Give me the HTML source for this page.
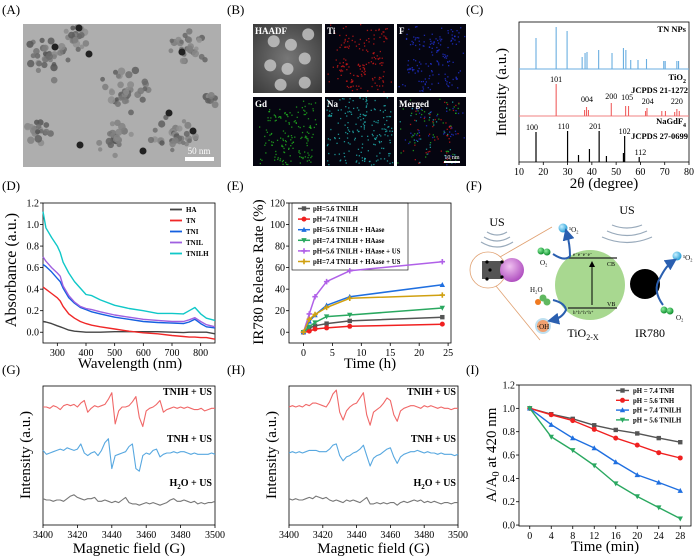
<!DOCTYPE html>
<html><head><meta charset="utf-8">
<style>
html,body{margin:0;padding:0;background:#fff;}
svg{display:block;font-family:"Liberation Serif",serif;}
</style></head>
<body>
<svg id="fig" width="700" height="559" viewBox="0 0 700 559" xmlns="http://www.w3.org/2000/svg">
<defs>
<radialGradient id="haadfG" cx="50%" cy="50%" r="70%"><stop offset="0" stop-color="#777"/><stop offset="1" stop-color="#3a3a3a"/></radialGradient>
<radialGradient id="pinkG" cx="40%" cy="35%" r="65%"><stop offset="0" stop-color="#f0c0f0"/><stop offset="1" stop-color="#b050c0"/></radialGradient>
<radialGradient id="blueBall" cx="35%" cy="35%" r="65%"><stop offset="0" stop-color="#c8f0ff"/><stop offset="1" stop-color="#2aa0d8"/></radialGradient>
<radialGradient id="greenBall" cx="35%" cy="35%" r="65%"><stop offset="0" stop-color="#90f0a0"/><stop offset="1" stop-color="#109030"/></radialGradient>
<marker id="arrH" markerWidth="6" markerHeight="6" refX="3" refY="3" orient="auto"><path d="M0,0 L6,3 L0,6 z" fill="#2a5fb0"/></marker>
<marker id="arrK" markerWidth="6" markerHeight="6" refX="3" refY="3" orient="auto"><path d="M0,0 L6,3 L0,6 z" fill="#000"/></marker>
</defs>

<g font-size="13" fill="#000">
<text x="2" y="14">(A)</text>
<text x="227" y="14">(B)</text>
<text x="466" y="14">(C)</text>
<text x="2" y="190">(D)</text>
<text x="227" y="190">(E)</text>
<text x="466" y="190">(F)</text>
<text x="2" y="374">(G)</text>
<text x="227" y="374">(H)</text>
<text x="466" y="374">(I)</text>
</g>

<g id="temA">
<rect x="23" y="24" width="198" height="143" fill="#aeaeae"/>
</g>
<g>
<rect x="185" y="157" width="29" height="4" fill="#fff"/>
<text x="199" y="154" font-size="9" fill="#fff" text-anchor="middle">50 nm</text>
</g>

<g id="mapB"></g>

<g id="schemeF" font-size="11">
<text x="497" y="226" text-anchor="middle" font-size="12">US</text>
<path d="M487,232 Q497,238 507,232 M484,237 Q497,245 510,237 M481,242 Q497,252 513,242" fill="none" stroke="#9ab" stroke-width="1.2"/>
<circle cx="488" cy="270" r="18" fill="none" stroke="#e0a070" stroke-width="0.8"/>
<line x1="500" y1="257" x2="552" y2="227" stroke="#e0a070" stroke-width="0.8"/>
<line x1="496" y1="286" x2="540" y2="340" stroke="#e0a070" stroke-width="0.8"/>
<rect x="482" y="261" width="20" height="18" fill="#555"/>
<circle cx="512" cy="270" r="12" fill="url(#pinkG)"/>
<circle cx="487" cy="262" r="1.6" fill="#000"/><circle cx="487" cy="279" r="1.6" fill="#000"/><circle cx="502" cy="262" r="1.6" fill="#000"/><circle cx="502" cy="277" r="1.6" fill="#000"/><circle cx="490" cy="270" r="1.6" fill="#000"/>
<circle cx="590" cy="285" r="35" fill="#a8d890"/>
<line x1="568" y1="258" x2="617" y2="258" stroke="#222" stroke-width="1.3"/>
<line x1="568" y1="308" x2="617" y2="308" stroke="#222" stroke-width="1.3"/>
<line x1="592" y1="305" x2="592" y2="264" stroke="#000" stroke-width="1" marker-end="url(#arrK)"/>
<text x="573" y="256" font-size="5">e⁻e⁻e⁻e⁻</text>
<text x="573" y="314" font-size="5">h⁺h⁺h⁺h⁺</text>
<text x="607" y="266" font-size="6">CB</text>
<text x="607" y="306" font-size="6">VB</text>
<text x="583" y="337" text-anchor="middle" font-size="12">TiO<tspan font-size="8" dy="3">2-X</tspan></text>
<text x="627" y="214" text-anchor="middle" font-size="12">US</text>
<path d="M612,225 Q627,231 642,225 M607,231 Q627,240 647,231 M602,237 Q627,248 652,237" fill="none" stroke="#9ab" stroke-width="1.2"/>
<circle cx="645" cy="284" r="15" fill="#000"/>
<text x="650" y="337" text-anchor="middle" font-size="12">IR780</text>
<circle cx="563" cy="228" r="4.5" fill="url(#blueBall)"/><text x="569" y="232" font-size="7">¹O₂</text>
<circle cx="677" cy="256" r="4.5" fill="url(#blueBall)"/><text x="683" y="260" font-size="7">¹O₂</text>
<circle cx="541" cy="251" r="3.5" fill="url(#greenBall)"/><circle cx="547" cy="252" r="3.5" fill="url(#greenBall)"/><text x="540" y="265" font-size="7">O₂</text>
<circle cx="664" cy="310" r="3.5" fill="url(#greenBall)"/><circle cx="670" cy="311" r="3.5" fill="url(#greenBall)"/><text x="676" y="320" font-size="7">O₂</text>
<text x="530" y="292" font-size="7">H₂O</text>
<circle cx="538" cy="302" r="3" fill="#f07a20"/><circle cx="543" cy="298" r="3.5" fill="#60b860"/><circle cx="547" cy="302" r="3.5" fill="#60b860"/>
<circle cx="543" cy="326" r="7" fill="#f0a070" stroke="#bfe0f0" stroke-width="2"/><text x="543" y="329" font-size="7" text-anchor="middle">·OH</text>
<path d="M553,254 Q565,262 570,256 Q570,245 567,234" fill="none" stroke="#2a5fb0" stroke-width="2" marker-end="url(#arrH)"/>
<path d="M553,300 Q565,303 566,310 Q562,318 553,320" fill="none" stroke="#2a5fb0" stroke-width="2" marker-end="url(#arrH)"/>
<path d="M663,305 Q652,290 660,278 Q666,266 672,262" fill="none" stroke="#2a5fb0" stroke-width="2" marker-end="url(#arrH)"/>
</g>

<g id="charts"></g>

<script>
const NS = 'http://www.w3.org/2000/svg';
const charts = document.getElementById('charts');

const xrdTNPos = [17, 25.3, 29.8, 36, 37.2, 38, 42.8, 48.3, 53, 54, 56, 59, 62.5, 69.6, 70.2, 75, 75.7];
const xrdTNInt = [31, 42, 38, 12, 16, 17, 19, 16, 21, 19, 9, 9, 10, 8, 8, 8, 8];
const xrdTiPos = [25.3, 37, 37.8, 38.6, 48, 53.9, 55.1, 62.1, 62.7, 68.8, 70.3, 74.1, 75, 76];
const xrdTiInt = [32, 6, 9, 6, 13, 10, 10, 5, 8, 5, 5, 4, 7, 5];
const xrdTiHkl = ['101', '004', '200', '105', '204', '220'];
const xrdTiHklPos = [25.3, 38, 48, 54.5, 63, 75];
const xrdNaPos = [17, 30, 34.5, 39, 43, 46, 53, 53.5, 59.5];
const xrdNaInt = [30, 31, 7, 13, 31, 6, 9, 26, 5];
const xrdNaHkl = ['100', '110', '201', '102', '112'];
const xrdNaHklPos = [17, 30, 43, 53.5, 60];
const xrdNaHklInt = [30, 31, 31, 26, 5];
const xrdXTicks = [10, 20, 30, 40, 50, 60, 70, 80];

const absWl = [250, 260, 280, 300, 310, 320, 340, 360, 380, 400, 420, 450, 500, 550, 600, 650, 700, 740, 760, 780, 800, 820, 850];
const absHA = [0.10, 0.095, 0.08, 0.06, 0.05, 0.04, 0.02, 0.01, 0.005, 0, 0, 0, 0.005, 0.005, 0.005, 0.005, 0, -0.003, 0, 0, 0, 0, -0.015];
const absTN = [0.42, 0.40, 0.36, 0.32, 0.29, 0.24, 0.17, 0.13, 0.10, 0.08, 0.065, 0.05, 0.03, 0.01, -0.005, -0.015, -0.03, -0.04, -0.045, -0.045, -0.05, -0.05, -0.065];
const absTNI = [0.63, 0.61, 0.56, 0.50, 0.47, 0.41, 0.32, 0.27, 0.23, 0.21, 0.19, 0.17, 0.14, 0.12, 0.10, 0.09, 0.085, 0.08, 0.095, 0.12, 0.08, 0.05, 0.04];
const absTNIL = [0.70, 0.66, 0.60, 0.55, 0.52, 0.43, 0.34, 0.28, 0.24, 0.22, 0.21, 0.19, 0.16, 0.14, 0.12, 0.11, 0.10, 0.10, 0.115, 0.135, 0.10, 0.07, 0.05];
const absTNILH = [1.12, 0.97, 0.88, 0.80, 0.74, 0.65, 0.55, 0.47, 0.41, 0.35, 0.34, 0.30, 0.25, 0.22, 0.20, 0.175, 0.175, 0.17, 0.20, 0.23, 0.17, 0.13, 0.11];
const absNames = ['HA', 'TN', 'TNI', 'TNIL', 'TNILH'];
const absXTicks = [300, 400, 500, 600, 700, 800];
const absYTicks = [0, 0.2, 0.4, 0.6, 0.8, 1.0, 1.2];

const relTime = [0, 1, 2, 4, 8, 24];
const rel56 = [0, 4, 6, 8, 10.5, 14];
const rel74 = [0, 1, 3, 4, 5.5, 7.5];
const rel56H = [0, 10, 16, 25, 33, 44];
const rel74H = [0, 5, 9, 14.5, 16, 22.5];
const rel56HU = [0, 17, 33, 47, 57, 65.5];
const rel74HU = [0, 12, 16.5, 23, 31.5, 34.5];
const relNames = ['pH=5.6 TNILH', 'pH=7.4 TNILH', 'pH=5.6 TNILH + HAase', 'pH=7.4 TNILH + HAase', 'pH=5.6 TNILH + HAase + US', 'pH=7.4 TNILH + HAase + US'];
const relXTicks = [0, 5, 10, 15, 20, 25];
const relYTicks = [0, 20, 40, 60, 80, 100, 120];

const eprStart = 3400, eprStep = 2;
const eprGTNIH = [0,0,-1,1,0,-2,1,2,1,2, 0,3,5,-4,-1,1,0,1,2,6, 11,-13,-3,0,0,1,4,8,-8,-15, -3,-1,0,2,5,-4,-2,-1,0,-1, 0,-1,0,-1,-2,-2,-1,-3,-2,-1, -1];
const eprGTNH = [2,-1,0,1,2,3,2,4,3,2, 3,7,0,-2,0,1,-2,2,8,11, -12,-2,-1,0,1,5,7,-12,-14,-2, 0,-1,2,3,-3,-1,0,0,1,0, 1,1,0,-1,0,-1,-1,-1,-1,0, -1];
const eprGH2O = [1,0,0,-1,0,0,-1,1,3,4, 2,1,0,1,1,2,-1,-1,0,-1, -2,-1,-2,0,2,-2,-3,-3,-4,-3, -2,-3,-2,-3,-4,-3,-2,0,1,-1, -1,0,-1,-2,-1,-3,-2,-3,-2,-2, -1];
const eprHTNIH = [0,1,0,1,0,2,1,3,3,2, 1,0,4,10,13,-4,-10,-3,0,2, 3,7,11,-6,-14,-4,-2,0,3,7, 5,-6,-11,-3,-1,0,1,1,0,-1, 1,0,1,0,-1,0,-1,-1,-2,-1, -1];
const eprHTNH = [0,1,0,1,0,1,2,2,2,1, 1,1,3,6,7,-2,-6,-3,-2,0, 1,3,6,-2,-10,-4,-2,-1,1,3, 4,-3,-8,-3,-1,0,1,1,2,1, 0,1,0,0,-1,0,-1,-1,-1,-2, -1];
const eprHH2O = [1,0,1,0,0,1,2,1,3,2, 1,2,0,-1,0,-1,-2,0,-1,0, -1,-2,0,2,-3,-3,-2,-3,-2,-3, -2,-2,-4,-2,-1,-2,-1,0,-1,0, -2,-1,-2,-1,-2,-3,-2,-2,-3,-2, -2];
const eprXTicks = [3400, 3420, 3440, 3460, 3480, 3500];
const eprNames = ['TNIH + US', 'TNH + US', 'H2O + US'];

const degTime = [0, 4, 8, 12, 16, 20, 24, 28];
const deg74TNH = [1.0, 0.95, 0.91, 0.855, 0.815, 0.785, 0.745, 0.71];
const deg56TNH = [1.0, 0.945, 0.895, 0.82, 0.745, 0.685, 0.62, 0.575];
const deg74TNILH = [1.0, 0.86, 0.745, 0.66, 0.54, 0.43, 0.365, 0.295];
const deg56TNILH = [1.0, 0.755, 0.64, 0.51, 0.355, 0.245, 0.15, 0.055];
const degNames = ['pH = 7.4 TNH', 'pH = 5.6 TNH', 'pH = 7.4 TNILH', 'pH = 5.6 TNILH'];
const degXTicks = [0, 4, 8, 12, 16, 20, 24, 28];
const degYTicks = [0, 0.2, 0.4, 0.6, 0.8, 1.0, 1.2];

function mk(parent, tag, attrs, text) {
  const el = document.createElementNS(NS, tag);
  for (const k in attrs) el.setAttribute(k, attrs[k]);
  if (text !== undefined) el.textContent = text;
  parent.appendChild(el);
  return el;
}
function subText(t, parts) {
  // parts: [text, isSub]
  let prevSub = false;
  parts.forEach(p => {
    const ts = mk(t, 'tspan', {}, p[0]);
    if (p[1] && !prevSub) { ts.setAttribute('dy', '3'); ts.setAttribute('font-size', '70%'); }
    else if (!p[1] && prevSub) ts.setAttribute('dy', '-3');
    else if (p[1]) ts.setAttribute('font-size', '70%');
    prevSub = p[1];
  });
}
function lin(d0, d1, r0, r1) { return v => r0 + (v - d0) * (r1 - r0) / (d1 - d0); }
function fmt1(v) { return v.toFixed(1); }

function axes(g, box, fx, fy, xt, yt, yf, xf) {
  const fr = mk(g, 'rect', {x: box.l, y: box.t, width: box.r - box.l, height: box.b - box.t, fill: 'none', stroke: '#000', 'stroke-width': 0.8});
  
  
  xt.forEach(v => {
    const x = fx(v);
    mk(g, 'line', {x1: x, y1: box.b, x2: x, y2: box.b + 3, stroke: '#000', 'stroke-width': 0.8});
    const t = mk(g, 'text', {x: x, y: box.b + 13, 'font-size': 10, 'text-anchor': 'middle'}, xf ? xf(v) : String(v));
    
    
  });
  (yt || []).forEach(v => {
    const y = fy(v);
    mk(g, 'line', {x1: box.l - 3, y1: y, x2: box.l, y2: y, stroke: '#000', 'stroke-width': 0.8});
    const t = mk(g, 'text', {x: box.l - 4, y: y + 3.5, 'font-size': 10, 'text-anchor': 'end'}, yf ? yf(v) : String(v));
    
    
  });
}
function ytitle(g, x, y, txt, size) {
  const t = mk(g, 'text', {x: x, y: y, 'font-size': size || 15, 'text-anchor': 'middle', transform: 'rotate(-90 ' + x + ' ' + y + ')'}, txt);
  
  
  return t;
}
function xtitle(g, x, y, txt) {
  const t = mk(g, 'text', {x: x, y: y, 'font-size': 15, 'text-anchor': 'middle'}, txt);
  
  
  return t;
}
function polyline(g, xs, ys, fx, fy, color, w) {
  const pts = xs.map((x, i) => fx(x).toFixed(1) + ',' + fy(ys[i]).toFixed(1)).join(' ');
  return mk(g, 'polyline', {points: pts, fill: 'none', stroke: color, 'stroke-width': w || 1.3, 'stroke-linejoin': 'round'});
}
function marker(g, x, y, shape, color) {
  let el;
  const s = 2.2;
  if (shape === 'sq') el = mk(g, 'rect', {x: x - s, y: y - s, width: 2 * s, height: 2 * s, fill: color});
  else if (shape === 'ci') el = mk(g, 'circle', {cx: x, cy: y, r: s + 0.3, fill: color});
  else if (shape === 'tu') el = mk(g, 'path', {d: `M${x},${y - s - 0.6} L${x + s + 0.5},${y + s} L${x - s - 0.5},${y + s}Z`, fill: color});
  else if (shape === 'td') el = mk(g, 'path', {d: `M${x},${y + s + 0.6} L${x + s + 0.5},${y - s} L${x - s - 0.5},${y - s}Z`, fill: color});
  else el = mk(g, 'path', {d: `M${x - s - 0.5},${y} L${x + s + 0.5},${y} M${x},${y - s - 0.5} L${x},${y + s + 0.5}`, stroke: color, 'stroke-width': 1.6});
  return el;
}

/* (A) TEM texture */
(function () {
  const g = document.getElementById('temA');
  let seed = 7;
  const rnd = () => { seed = (seed * 16807) % 2147483647; return seed / 2147483647; };
  const clusters = [[45, 60, 25], [75, 40, 15], [125, 95, 30], [115, 140, 20], [190, 50, 22], [175, 135, 25], [40, 130, 15], [210, 100, 8]];
  clusters.forEach(c => {
    const n = Math.round(c[2] * 1.3);
    for (let i = 0; i < n; i++) {
      const a = rnd() * 6.283, r = rnd() * c[2];
      const x = c[0] + Math.cos(a) * r, y = c[1] + Math.sin(a) * r * 0.9;
      if (x < 26 || x > 218 || y < 27 || y > 164) continue;
      const shade = Math.round(85 + rnd() * 60);
      mk(g, 'circle', {cx: x.toFixed(1), cy: y.toFixed(1), r: (2.2 + rnd() * 1.6).toFixed(1), fill: `rgb(${shade},${shade},${shade})`, opacity: 0.85});
    }
  });
  [[55, 47], [89, 54], [79, 28], [182, 52], [193, 131], [80, 145], [169, 113], [143, 151]].forEach(p => mk(g, 'circle', {cx: p[0], cy: p[1], r: 3.5, fill: '#222'}));
})();

/* (B) mapping tiles */
(function () {
  const g = document.getElementById('mapB');
  const cols = [253, 325, 397], rows = [24, 97], w = 69, h = 69;
  const names = ['HAADF', 'Ti', 'F', 'Gd', 'Na', 'Merged'];
  const colors = [null, '#d01818', '#2030d0', '#20b020', '#20b0b0', null];
  let seed = 11;
  const rnd = () => { seed = (seed * 16807) % 2147483647; return seed / 2147483647; };
  const centers = [[0.3, 0.25], [0.55, 0.3], [0.25, 0.6], [0.5, 0.65], [0.75, 0.5], [0.8, 0.15], [0.4, 0.88], [0.75, 0.85]];
  names.forEach((nm, i) => {
    const x0 = cols[i % 3], y0 = rows[Math.floor(i / 3)];
    const tile = mk(g, 'g', {});
    
    
    mk(tile, 'rect', {x: x0, y: y0, width: w, height: h, fill: i === 0 ? 'url(#haadfG)' : '#050510'});
    if (i === 0) {
      centers.forEach(c => mk(tile, 'circle', {cx: x0 + c[0] * w, cy: y0 + c[1] * h, r: 6, fill: '#c8c8c8', opacity: 0.8}));
    } else {
      const cl = i === 5 ? ['#d01818', '#20b0b0', '#2030d0', '#20b020'] : [colors[i]];
      const n = i === 4 ? 200 : 160;
      for (let k = 0; k < n; k++) {
        let px, py;
        if (i === 4 || rnd() < 0.25) { px = rnd(); py = rnd(); }
        else { const c = centers[Math.floor(rnd() * centers.length)]; px = c[0] + (rnd() - 0.5) * 0.2; py = c[1] + (rnd() - 0.5) * 0.2; }
        if (px < 0 || px > 0.98 || py < 0 || py > 0.98) continue;
        mk(tile, 'rect', {x: (x0 + px * w).toFixed(1), y: (y0 + py * h).toFixed(1), width: 1.3, height: 1.3, fill: cl[Math.floor(rnd() * cl.length)], opacity: 0.8});
      }
    }
    mk(tile, 'text', {x: x0 + 2, y: y0 + 10, 'font-size': 9, 'font-weight': 'bold', fill: '#fff'}, nm);
  });
  mk(g, 'rect', {x: 444, y: 161, width: 16, height: 2, fill: '#fff'});
  mk(g, 'text', {x: 452, y: 159, 'font-size': 6, fill: '#fff', 'text-anchor': 'middle'}, '10 nm');
})();

/* (C) XRD */
(function () {
  const g = mk(charts, 'g', {});
  
  
  const box = {l: 519, r: 689, t: 22, b: 162};
  const fx = lin(10, 80, box.l, box.r);
  axes(g, box, fx, null, xrdXTicks, []);
  const base1 = 69, base2 = 116, base3 = 162;
  mk(g, 'line', {x1: box.l, y1: base1, x2: box.r, y2: base1, stroke: '#6aaee0', 'stroke-width': 1});
  mk(g, 'line', {x1: box.l, y1: base2, x2: box.r, y2: base2, stroke: '#f08080', 'stroke-width': 1});
  xrdTNPos.forEach((p, i) => {
    const l = mk(g, 'line', {x1: fx(p), x2: fx(p), y1: base1, y2: base1 - xrdTNInt[i], stroke: '#6aaee0', 'stroke-width': 1.1});
    
    
  });
  xrdTiPos.forEach((p, i) => {
    const l = mk(g, 'line', {x1: fx(p), x2: fx(p), y1: base2, y2: base2 - xrdTiInt[i], stroke: '#f06060', 'stroke-width': 1.1});
    
    
  });
  xrdNaPos.forEach((p, i) => {
    const l = mk(g, 'line', {x1: fx(p), x2: fx(p), y1: base3, y2: base3 - xrdNaInt[i], stroke: '#000', 'stroke-width': 1.2});
    
    
  });
  const tiHklInt = [32, 12, 15, 14, 10, 10];
  xrdTiHkl.forEach((h, i) => mk(g, 'text', {x: fx(xrdTiHklPos[i]), y: base2 - tiHklInt[i] - 2, 'font-size': 8, 'text-anchor': 'middle'}, h));
  xrdNaHkl.forEach((h, i) => mk(g, 'text', {x: fx(xrdNaHklPos[i]) - (i < 3 ? 4 : 0), y: base3 - xrdNaHklInt[i] - 2, 'font-size': 8, 'text-anchor': 'middle'}, h));
  const s = {'font-size': 8.5, 'font-weight': 'bold', 'text-anchor': 'end'};
  mk(g, 'text', Object.assign({x: 686, y: 32}, s), 'TN NPs');
  const t1 = mk(g, 'text', Object.assign({x: 686, y: 80}, s));
  subText(t1, [['TiO', false], ['2', true]]);
  mk(g, 'text', Object.assign({x: 688, y: 93}, s), 'JCPDS 21-1272');
  const t2 = mk(g, 'text', Object.assign({x: 686, y: 124}, s));
  subText(t2, [['NaGdF', false], ['4', true]]);
  mk(g, 'text', Object.assign({x: 688, y: 139}, s), 'JCPDS 27-0699');
  ytitle(g, 506, 92, 'Intensity (a.u.)');
  xtitle(g, 604, 188, '2θ (degree)');
})();

/* (D) absorbance */
(function () {
  const g = mk(charts, 'g', {});
  
  
  const box = {l: 43, r: 215, t: 203, b: 343};
  const fx = lin(250, 850, box.l, box.r), fy = lin(-0.1, 1.2, box.b, box.t);
  axes(g, box, fx, fy, absXTicks, absYTicks, fmt1);
  const series = [absHA, absTN, absTNI, absTNIL, absTNILH];
  const cols = ['#444', '#f02828', '#1560e0', '#a060e0', '#10c8c8'];
  series.forEach((s, i) => {
    const l = polyline(g, absWl, s, fx, fy, cols[i], 1.4);
    
    
    const ly = 212 + i * 11;
    mk(g, 'line', {x1: 170, x2: 182, y1: ly - 2.5, y2: ly - 2.5, stroke: cols[i], 'stroke-width': 1.8});
    const lt = mk(g, 'text', {x: 186, y: ly, 'font-size': 7, 'font-weight': 'bold'}, absNames[i]);
    
    
  });
  ytitle(g, 16, 270, 'Absorbance (a.u.)', 16);
  xtitle(g, 130, 368, 'Wavelength (nm)');
})();

/* (E) release */
(function () {
  const g = mk(charts, 'g', {});
  
  
  const box = {l: 289, r: 451, t: 203, b: 343};
  const fx = lin(-2.5, 25.5, box.l, box.r), fy = lin(-10, 120, box.b, box.t);
  axes(g, box, fx, fy, relXTicks, relYTicks);
  const series = [rel56, rel74, rel56H, rel74H, rel56HU, rel74HU];
  const cols = ['#555', '#f02020', '#1f6fe0', '#2aa860', '#b060e8', '#d0a010'];
  const shapes = ['sq', 'ci', 'tu', 'td', 'st', 'st'];
  const lg = mk(g, 'rect', {x: 292, y: 203, width: 116, height: 67, fill: 'none', stroke: '#000', 'stroke-width': 0.6});
  
  
  series.forEach((s, i) => {
    const l = polyline(g, relTime, s, fx, fy, cols[i], 1.5);
    
    
    relTime.forEach((t, j) => {
      const m = marker(g, fx(t), fy(s[j]), shapes[i], cols[i]);
      
      
    });
    const ly = 211 + i * 10.6;
    mk(g, 'line', {x1: 298, x2: 310, y1: ly - 2.5, y2: ly - 2.5, stroke: cols[i], 'stroke-width': 1.5});
    marker(g, 304, ly - 2.5, shapes[i], cols[i]);
    const lt = mk(g, 'text', {x: 313, y: ly, 'font-size': 6.8, 'font-weight': 'bold'}, relNames[i]);
    
    
  });
  ytitle(g, 263, 272, 'IR780 Release Rate (%)', 15);
  xtitle(g, 370, 368, 'Time (h)');
})();

/* (G)/(H) EPR */
const eprGain = 1.3;
function eprPanel(name, l, r, data, labelX) {
  const g = mk(charts, 'g', {});
  
  
  const box = {l: l, r: r, t: 386, b: 525};
  const fx = lin(3400, 3500, l, r);
  axes(g, box, fx, null, eprXTicks, []);
  const bases = [407, 453, 500];
  const cols = ['#f06868', '#58a8e0', '#777'];
  const labY = [395, 442, 486];
  data.forEach((s, i) => {
    const xs = s.map((v, k) => eprStart + k * eprStep);
    const fy = v => bases[i] - v * eprGain;
    const pl = polyline(g, xs, s, fx, fy, cols[i], 1.1);
    
    
    const t = mk(g, 'text', {x: labelX, y: labY[i], 'font-size': 10, 'font-weight': 'bold', 'text-anchor': 'end'});
    if (i === 2) subText(t, [['H', false], ['2', true], ['O + US', false]]);
    else t.textContent = eprNames[i];
    
    
  });
  ytitle(g, l - 13, 455, 'Intensity (a.u.)', 15);
  xtitle(g, (l + r) / 2, 553, 'Magnetic field (G)');
}
eprPanel('epr-chart-g', 43, 215, [eprGTNIH, eprGTNH, eprGH2O], 212);
eprPanel('epr-chart-h', 289, 458, [eprHTNIH, eprHTNH, eprHH2O], 456);

/* (I) degradation */
(function () {
  const g = mk(charts, 'g', {});
  
  
  const box = {l: 519, r: 691, t: 385, b: 526};
  const fx = lin(-2, 30, box.l, box.r), fy = lin(-0.008, 1.2, box.b, box.t);
  axes(g, box, fx, fy, degXTicks, degYTicks, fmt1);
  const series = [deg74TNH, deg56TNH, deg74TNILH, deg56TNILH];
  const cols = ['#555', '#f02020', '#1f6fe0', '#2aa860'];
  const shapes = ['sq', 'ci', 'tu', 'td'];
  series.forEach((s, i) => {
    const l = polyline(g, degTime, s, fx, fy, cols[i], 1.4);
    
    
    degTime.forEach((t, j) => {
      const m = marker(g, fx(t), fy(s[j]), shapes[i], cols[i]);
      
      
    });
    const ly = 393 + i * 9.8;
    mk(g, 'line', {x1: 616, x2: 629, y1: ly - 2.5, y2: ly - 2.5, stroke: cols[i], 'stroke-width': 1.4});
    marker(g, 622.5, ly - 2.5, shapes[i], cols[i]);
    const lt = mk(g, 'text', {x: 633, y: ly, 'font-size': 6.8, 'font-weight': 'bold'}, degNames[i]);
    
    
  });
  const yt = ytitle(g, 496, 455, '', 15);
  subText(yt, [['A/A', false], ['0', true], [' at 420 nm', false]]);
  xtitle(g, 605, 551, 'Time (min)');
})();
</script>
</svg>
</body></html>
